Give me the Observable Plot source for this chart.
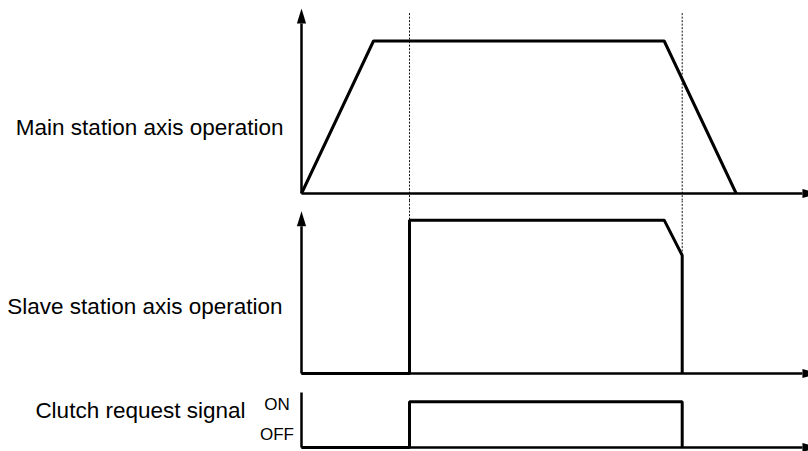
<!DOCTYPE html>
<html>
<head>
<meta charset="utf-8">
<script src="https://cdn.jsdelivr.net/npm/d3@7"></script>
<script src="https://cdn.jsdelivr.net/npm/@observablehq/plot@0.6"></script>
<style>
  html, body { margin: 0; padding: 0; background: #fff; }
  #chart { width: 808px; height: 451px; overflow: hidden; }
  #chart svg { display: block; }
</style>
</head>
<body>
<div id="chart"></div>
<script>
// ---- data (time in arbitrary units, speed in % of rated) ----
const mainT   = [0, 4, 20.15, 24.15];
const mainV   = [0, 100, 100, 0];
const slaveT  = [0, 6, 6, 20.15, 21.15, 21.15];
const slaveV  = [0, 0, 100, 100, 77, 0];
const clutchT = [0, 6, 6, 21.15, 21.15];
const clutchV = [0, 0, 1, 1, 0];
const eventT  = [6, 21.15];              // clutch ON / clutch OFF instants
const eventSlaveV = [100, 77];           // slave level at those instants
const labels  = ["Main station axis operation", "Slave station axis operation", "Clutch request signal"];
const levelNames = ["OFF", "ON"];
const levelValues = [0, 1];

const toPts = (ts, vs) => ts.map((t, i) => ({t, v: vs[i]}));
const FONT = "'Liberation Sans', Arial, Helvetica, sans-serif";

// filled, slender arrow head; base centred on the anchor, tip pointing "up"
const arrowHead = {
  draw(ctx) {
    ctx.moveTo(0, -15);
    ctx.lineTo(-4.6, 0);
    ctx.lineTo(4.6, 0);
    ctx.closePath();
  }
};

const X_END = 27.83;
const traceStyle = {x: "t", y: "v", stroke: "#000", strokeWidth: 3, strokeLinejoin: "miter", strokeLinecap: "butt", curve: "linear"};
const axisStyle  = {x: "t", y: "v", stroke: "#000", strokeWidth: 2.5, strokeLinecap: "butt"};
const labelStyle = {x: "t", y: "v", text: "s", textAnchor: "end", fontSize: 22.5, fill: "#000", lineAnchor: "middle"};

function axesMarks(yTop, arrowUp) {
  const m = [
    Plot.line([{t: 0, v: 0}, {t: X_END, v: 0}], axisStyle),
    Plot.line([{t: 0, v: 0}, {t: 0, v: yTop}], axisStyle),
    Plot.dot([{t: X_END, v: 0}], {x: "t", y: "v", symbol: arrowHead, r: 3, fill: "#000", stroke: null, rotate: 90})
  ];
  if (arrowUp) m.push(Plot.dot([{t: 0, v: yTop}], {x: "t", y: "v", symbol: arrowHead, r: 3, fill: "#000", stroke: null}));
  return m;
}

function panel(height, mt, mb, ydomain, marks) {
  return Plot.plot({
    width: 808, height,
    marginLeft: 301, marginRight: 3, marginTop: mt, marginBottom: mb,
    x: {domain: [0, 28], axis: null},
    y: {domain: ydomain, axis: null},
    style: {background: "#fff", fontFamily: FONT, color: "#000"},
    marks
  });
}

const dashStyle = {stroke: "#111", strokeWidth: 1, strokeDasharray: "2,1.5"};

// Main station panel
const p1 = panel(200, 10, 7, [0, 120], [
  Plot.ruleX(eventT, {x: d => d, y1: -5, y2: 118.5, ...dashStyle}),
  ...axesMarks(111.5, true),
  Plot.line(toPts(mainT, mainV), traceStyle),
  Plot.text([{t: 0, v: 42.8, s: labels[0]}], {...labelStyle, dx: -18})
]);

// Slave station panel
const p2 = panel(185, 12, 12, [0, 105], [
  Plot.ruleX(eventT.map((t, i) => ({t, v: eventSlaveV[i]})), {x: "t", y1: "v", y2: () => 114, ...dashStyle}),
  ...axesMarks(96, true),
  Plot.line(toPts(slaveT, slaveV), traceStyle),
  Plot.text([{t: 0, v: 43.2, s: labels[1]}], {...labelStyle, dx: -19})
]);

// Clutch request panel
const p3 = panel(66, 7, 4, [0, 1.2], [
  ...axesMarks(1.2, false),
  Plot.line(toPts(clutchT, clutchV), traceStyle),
  Plot.text([{t: 0, v: 0.81, s: labels[2]}], {...labelStyle, dx: -56}),
  Plot.text(levelNames.map((s, i) => ({t: 0, v: levelValues[i] === 1 ? 0.94 : 0.28, s})), {x: "t", y: "v", text: "s", textAnchor: "middle", dx: -24.5, fontSize: 17, fill: "#000", lineAnchor: "middle"})
]);

const chart = document.getElementById("chart");
chart.append(p1, p2, p3);
</script>
</body>
</html>
